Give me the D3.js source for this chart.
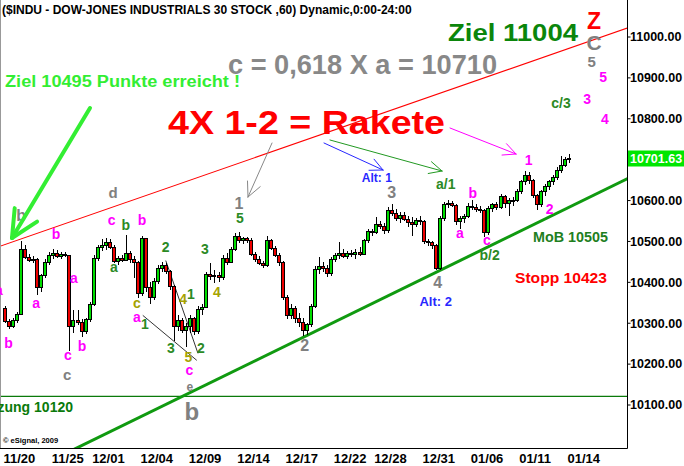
<!DOCTYPE html>
<html><head><meta charset="utf-8">
<script src="https://cdn.jsdelivr.net/npm/d3@7"></script>
<style>body{margin:0;background:#fff}svg{display:block}text{font-family:"Liberation Sans",Arial,sans-serif;font-weight:bold}</style>
</head><body><svg id="c" width="684" height="466"></svg>
<script>
// ---------- data ----------
const dayLabels = ["11/20","11/25","12/01","12/04","12/09","12/14","12/17","12/22","12/28","12/31","01/06","01/11","01/14"];
const dayStartBar = [0,12,22,34,46,58,70,82,92,104,116,128,140];
const priceTicks = [10100,10200,10300,10400,10500,10600,10700,10800,10900,11000];
const lastPrice = 10701.63;
// hourly-ish candles [open, high, low, close]
const ohlc = [
[10335,10342,10300,10303],[10303,10310,10284,10290],[10290,10312,10286,10306],[10306,10326,10300,10320],
[10320,10500,10318,10478],[10478,10490,10455,10460],[10460,10468,10448,10452],[10452,10462,10445,10455],
[10455,10458,10368,10385],[10385,10420,10375,10415],[10415,10455,10410,10448],[10448,10472,10442,10465],
[10465,10480,10455,10470],[10470,10478,10458,10462],[10462,10472,10455,10468],[10468,10474,10460,10464],
[10464,10466,10230,10290],[10290,10330,10275,10305],
[10305,10330,10295,10300],[10300,10310,10265,10278],[10278,10312,10272,10308],[10308,10350,10302,10345],
[10345,10465,10340,10458],[10458,10490,10450,10485],[10485,10505,10475,10490],[10490,10508,10478,10495],
[10495,10505,10480,10485],[10485,10490,10445,10450],[10450,10462,10440,10458],[10458,10465,10448,10452],
[10452,10515,10450,10470],[10470,10475,10445,10455],[10455,10462,10410,10448],[10448,10450,10360,10372],
[10372,10512,10365,10505],[10505,10508,10375,10385],[10385,10400,10347,10362],[10362,10410,10355,10400],
[10400,10440,10395,10432],[10432,10448,10425,10440],[10440,10445,10420,10425],[10425,10430,10380,10388],
[10388,10392,10255,10290],[10290,10318,10280,10305],[10305,10312,10275,10282],[10282,10300,10240,10290],
[10290,10318,10275,10310],[10310,10315,10270,10278],[10278,10340,10272,10332],[10332,10345,10320,10338],
[10338,10425,10335,10418],[10418,10445,10405,10412],[10412,10430,10398,10415],[10415,10425,10400,10410],
[10410,10465,10405,10458],[10458,10470,10440,10448],[10448,10485,10445,10480],[10480,10520,10475,10512],
[10512,10522,10495,10500],[10500,10510,10492,10505],[10505,10510,10496,10502],[10502,10506,10462,10466],
[10466,10472,10448,10455],[10455,10462,10440,10445],[10445,10452,10433,10440],[10440,10512,10436,10500],
[10500,10505,10478,10482],[10482,10488,10460,10465],[10465,10470,10438,10448],[10448,10452,10355,10362],
[10362,10368,10310,10318],[10318,10345,10308,10335],[10335,10342,10300,10310],[10310,10325,10290,10300],
[10300,10312,10268,10282],[10282,10300,10270,10295],[10295,10345,10290,10340],[10340,10438,10335,10430],
[10430,10460,10420,10438],[10438,10448,10425,10432],[10432,10440,10412,10420],[10420,10460,10415,10455],
[10455,10470,10448,10465],[10465,10498,10455,10470],[10470,10480,10458,10462],[10462,10475,10455,10470],
[10470,10478,10460,10466],[10466,10480,10455,10472],[10472,10485,10462,10468],[10468,10505,10465,10500],
[10500,10528,10495,10522],[10522,10530,10512,10520],
[10520,10558,10518,10540],[10540,10548,10528,10535],[10535,10545,10518,10525],[10525,10582,10520,10575],
[10575,10590,10560,10568],[10568,10578,10550,10555],[10555,10570,10545,10562],[10562,10572,10548,10552],
[10552,10560,10535,10545],[10545,10558,10512,10540],[10540,10555,10535,10550],[10550,10560,10540,10548],
[10548,10552,10492,10498],[10498,10505,10488,10495],[10495,10500,10480,10488],[10488,10492,10428,10432],
[10432,10560,10430,10555],[10555,10595,10550,10588],[10588,10600,10580,10592],[10592,10598,10582,10586],
[10586,10590,10540,10548],[10548,10560,10530,10555],[10555,10565,10545,10560],[10560,10592,10555,10585],
[10585,10600,10575,10582],[10582,10590,10570,10578],[10578,10585,10568,10574],[10574,10578,10510,10520],
[10520,10585,10515,10580],[10580,10592,10572,10588],[10588,10595,10575,10582],[10582,10615,10578,10608],
[10608,10612,10580,10592],[10592,10605,10562,10598],[10598,10608,10585,10600],[10600,10628,10595,10622],
[10622,10650,10615,10645],[10645,10670,10638,10660],[10660,10668,10640,10648],[10648,10652,10605,10610],
[10610,10615,10575,10588],[10588,10625,10582,10620],[10620,10640,10610,10632],[10632,10650,10625,10645],
[10645,10662,10638,10655],[10655,10680,10650,10672],[10672,10708,10665,10685],[10685,10705,10680,10698],
[10698,10712,10690,10701.63]
];
// trend lines as [barIndex, price] pairs
const resistanceLine = [[-0.74,10487],[154.8,11020]];
const supportTrend = [[27.3,10037],[153.1,10643]];
const supportLevel = 10120;
const wedgeLower = [[34.7,10318],[48.1,10208]];
const wedgeUpper = [[40.4,10452],[48.4,10225]];
// wave labels [barIndex, price, text]
const magentaLabels = [[-1,10367,"a"],[1.36,10237,"b"],[8.2,10337,"a"],[13.15,10504,"b"],[16.1,10208,"c"],[17.6,10396,"a"],[19.6,10230,"b"],[27.0,10540,"c"],[34.5,10540,"b"],[33.25,10301,"a"],[46.3,10172,"c"],[130.5,10685,"1"],[135.7,10567,"2"],[116.6,10604,"b"],[113.4,10506,"a"],[120.1,10490,"c"],[149,10888,"5"],[145,10836,"3"],[149.4,10785,"4"]];
const greenLabels = [[30.5,10526,"b"],[27.5,10423,"a"],[35.2,10284,"1"],[40.4,10474,"2"],[41.7,10225,"3"],[46.65,10359,"1"],[49.1,10225,"2"],[50.1,10469,"3"],[58.8,10543,"5"],[109.9,10628,"a/1"],[120.8,10453,"b/2"],[138.5,10826,"c/3"]];
const oliveLabels = [[33.25,10335,"c"],[44.7,10347,"4"],[46.0,10203,"5"],[53.1,10362,"4"]];
const grayLabels = [[4.5,10548,"b",16],[27.3,10604,"d",15],[15.9,10159,"c",15],[46.4,10134,"e",12],[46.9,10061,"b",24],[58.6,10579,"1",16],[96.5,10606,"3",16],[74.9,10230,"2",16],[107.9,10386,"4",16],[146.7,10966,"C",21],[146.1,10926,"5",15]];
const blueLabels = [[92.8,10643,"Alt: 1",12],[107.4,10342,"Alt: 2",13]];

// ---------- drawing ----------
const svg = d3.select("#c");
const W = 684, H = 466, plotR = 627, plotB = 448;
const x = d3.scaleLinear().domain([0,140]).range([3,567]);
const y = d3.scaleLinear().domain([10100,11000]).range([404.5,36.5]);

svg.append("defs").append("clipPath").attr("id","clip").append("rect")
  .attr("x",0).attr("y",0).attr("width",plotR).attr("height",plotB);
const plot = svg.append("g").attr("clip-path","url(#clip)");

// support level
plot.append("line").attr("x1",0).attr("x2",plotR)
  .attr("y1",y(supportLevel)).attr("y2",y(supportLevel))
  .attr("stroke","#0a7a0a").attr("stroke-width",1.2);

function extLine(pts){
  const [[i1,p1],[i2,p2]] = pts;
  const s = (p2-p1)/(i2-i1);
  const a = x.invert(-10), b = x.invert(plotR+10);
  return [[a,p1+s*(a-i1)],[b,p1+s*(b-i1)]];
}
const lineGen = d3.line().x(d=>x(d[0])).y(d=>y(d[1]));
plot.append("path").attr("d",lineGen(extLine(resistanceLine))).attr("stroke","#ff0000").attr("stroke-width",1.1).attr("fill","none");
plot.append("path").attr("d",lineGen(extLine(supportTrend))).attr("stroke","#109a10").attr("stroke-width",3).attr("fill","none");
plot.append("path").attr("d",lineGen(wedgeLower)).attr("stroke","#000").attr("stroke-width",0.8).attr("fill","none");
plot.append("path").attr("d",lineGen(wedgeUpper)).attr("stroke","#000").attr("stroke-width",0.8).attr("fill","none");

// candles
const cg = plot.append("g").attr("shape-rendering","crispEdges");
cg.selectAll("line.w").data(ohlc).join("line").attr("class","w")
  .attr("x1",(d,i)=>Math.round(x(i))+2).attr("x2",(d,i)=>Math.round(x(i))+2)
  .attr("y1",d=>y(d[1])).attr("y2",d=>y(d[2])).attr("stroke","#000").attr("stroke-width",1);
cg.selectAll("rect.b").data(ohlc).join("rect").attr("class","b")
  .attr("x",(d,i)=>Math.round(x(i))+0.5).attr("width",3)
  .attr("y",d=>y(Math.max(d[0],d[3])))
  .attr("height",d=>Math.max(1,Math.abs(y(d[0])-y(d[3]))))
  .attr("fill",d=>d[3]>=d[0]?"#00dd00":"#ee0000")
  .attr("stroke","#000").attr("stroke-width",1);

// frame
svg.append("line").attr("x1",0.5).attr("x2",0.5).attr("y1",0).attr("y2",plotB).attr("stroke","#999");
svg.append("line").attr("x1",plotR+0.5).attr("x2",plotR+0.5).attr("y1",0).attr("y2",plotB+0.5).attr("stroke","#000");
svg.append("line").attr("x1",0).attr("x2",plotR+0.5).attr("y1",plotB+0.5).attr("y2",plotB+0.5).attr("stroke","#000");

// right axis
const ya = svg.append("g").attr("transform",`translate(${plotR+0.5},0)`)
  .call(d3.axisRight(y).tickValues(priceTicks).tickFormat(d3.format(".2f")).tickSize(3).tickPadding(0));
ya.select(".domain").remove();
ya.selectAll("text").attr("font-size",12.5).attr("font-family","'Liberation Sans',Arial,sans-serif").attr("font-weight","bold").attr("fill","#000").attr("dy","0.35em").attr("x",2.5);
// last price box
svg.append("rect").attr("x",plotR+1).attr("y",y(lastPrice)-8).attr("width",W-plotR-1).attr("height",16).attr("fill","#00e600");
svg.append("text").attr("x",plotR+3).attr("y",y(lastPrice)).attr("dy","0.35em").attr("font-size",12.5).attr("fill","#fff").text(d3.format(".2f")(lastPrice));

// bottom axis
const xa = svg.append("g").attr("transform",`translate(0,${plotB})`)
  .call(d3.axisBottom(x).tickValues(dayStartBar).tickFormat((d,i)=>dayLabels[i]).tickSize(0).tickPadding(0));
xa.select(".domain").remove();
xa.selectAll("text").attr("font-size",13).attr("font-family","'Liberation Sans',Arial,sans-serif").attr("font-weight","bold").attr("fill","#000").attr("text-anchor","start").attr("dy",0).attr("y",15);

// wave labels
function labels(arr,color,size){
  svg.append("g").selectAll("text").data(arr).join("text")
    .attr("x",d=>x(d[0])).attr("y",d=>y(d[1])).attr("text-anchor","middle")
    .attr("font-size",d=>d[3]||size).attr("fill",color).text(d=>d[2]);
}
labels(magentaLabels,"#ff00ff",14);
labels(greenLabels,"#2b8a24",14);
labels(oliveLabels,"#a5a200",14);
labels(grayLabels,"#808080",16);
labels(blueLabels,"#2727ff",12);

// arrows
function arrow(x1,y1,x2,y2,color,w,len){
  const ang = Math.atan2(y2-y1,x2-x1);
  const g = svg.append("g").attr("stroke",color).attr("stroke-width",w).attr("stroke-linecap","round").attr("fill","none");
  g.append("line").attr("x1",x1).attr("y1",y1).attr("x2",x2).attr("y2",y2);
  [0.45,-0.45].forEach(a=>{
    g.append("line").attr("x1",x2).attr("y1",y2)
      .attr("x2",x2-len*Math.cos(ang+a)).attr("y2",y2-len*Math.sin(ang+a));
  });
}
arrow(90,108,12,238,"#33ee33",4,30);
arrow(272,143,248,197,"#888",1,16);
arrow(324,143,383,170,"#2727ff",1,14);
arrow(330,140,442,171,"#229922",1,14);
arrow(450,128,516,154,"#ff00ff",1,14);

// texts
svg.append("text").attr("x",2).attr("y",14).attr("font-size",12).attr("fill","#000").text("($INDU - DOW-JONES INDUSTRIALS 30 STOCK ,60) Dynamic,0:00-24:00");
svg.append("text").attr("x",448).attr("y",41).attr("font-size",24).attr("fill","#0b860b").attr("textLength",130).attr("lengthAdjust","spacingAndGlyphs").text("Ziel 11004");
svg.append("text").attr("x",587).attr("y",29).attr("font-size",23).attr("fill","#ff0000").text("Z");
svg.append("text").attr("x",228).attr("y",74).attr("font-size",27).attr("fill","#888").attr("textLength",269).attr("lengthAdjust","spacingAndGlyphs").text("c = 0,618 X a = 10710");
svg.append("text").attr("x",5).attr("y",87).attr("font-size",16).attr("fill","#33ee33").attr("textLength",235).attr("lengthAdjust","spacingAndGlyphs").text("Ziel 10495 Punkte erreicht !");
svg.append("text").attr("x",168).attr("y",134).attr("font-size",34).attr("fill","#ff0000").attr("textLength",277).attr("lengthAdjust","spacingAndGlyphs").text("4X 1-2 = Rakete");
svg.append("text").attr("x",533).attr("y",242).attr("font-size",15).attr("fill","#1f7f1f").attr("textLength",75).attr("lengthAdjust","spacingAndGlyphs").text("MoB 10505");
svg.append("text").attr("x",515).attr("y",283).attr("font-size",15).attr("fill","#ff0000").attr("textLength",92).attr("lengthAdjust","spacingAndGlyphs").text("Stopp 10423");
svg.append("text").attr("x",73).attr("y",412).attr("font-size",14).attr("fill","#0a7a0a").attr("text-anchor","end").text("Unterstützung 10120");
svg.append("text").attr("x",3).attr("y",443).attr("font-size",7.5).attr("font-weight","normal").attr("fill","#000").text("© eSignal, 2009");
</script></body></html>
